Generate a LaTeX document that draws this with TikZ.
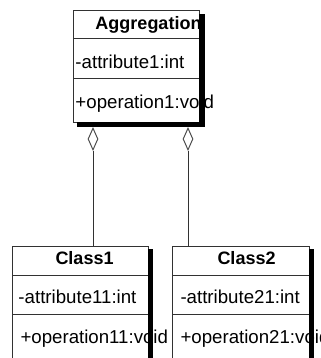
\documentclass[tikz,border=0pt]{standalone}
\usepackage{fontspec}
\setmainfont{Liberation Sans}
\usetikzlibrary{shapes.geometric}

\tikzset{every picture/.style={line width=0.75pt}}
\tikzset{
  umltext/.style={anchor=base west,inner sep=0pt,font=\fontsize{14}{16}\selectfont},
  umlname/.style={umltext,font=\fontsize{13.5}{16}\selectfont\bfseries},
  aggdiamond/.style={diamond,draw={rgb, 255:red, 80; green, 80; blue, 80},fill=white,inner sep=0pt,minimum width=7.5pt,minimum height=16.5pt}
}

\begin{document}
\begin{tikzpicture}[x=0.75pt,y=0.75pt,yscale=-1,xscale=1]
\useasboundingbox (0,0) rectangle (321,358);
\clip (0,0) rectangle (321,358);

% Aggregation
\draw  [draw={rgb, 255:red, 50; green, 50; blue, 50 }  ,fill=white ] (73,10) rectangle (199,122) ;
\draw  [draw={rgb, 255:red, 50; green, 50; blue, 50 }]  (73,38) -- (199,38) ;
\draw  [draw={rgb, 255:red, 50; green, 50; blue, 50 }]  (73,78) -- (199,78) ;
\draw (95,29) node (aggname) [umlname] {Aggregation};
\draw (75,68) node (aggattr) [umltext] {-attribute1:int};
\draw (75,108) node (aggop) [umltext] {+operation1:void};
\fill (199,14) rectangle (205,127) ;
\fill (77,122) rectangle (205,127) ;

% Class1
\draw  [draw={rgb, 255:red, 50; green, 50; blue, 50 }  ,fill=white ] (12,246) rectangle (148,370) ;
\draw  [draw={rgb, 255:red, 50; green, 50; blue, 50 }]  (12,275) -- (148,275) ;
\draw  [draw={rgb, 255:red, 50; green, 50; blue, 50 }]  (12,314) -- (148,314) ;
\draw (55,264) node (cls1name) [umlname] {Class1};
\draw (18,303) node (cls1attr) [umltext] {-attribute11:int};
\draw (20,343) node (cls1op) [umltext] {+operation11:void};
\fill (148,249) rectangle (153,370) ;

% Class2
\draw  [draw={rgb, 255:red, 50; green, 50; blue, 50 }  ,fill=white ] (172,246) rectangle (309,370) ;
\draw  [draw={rgb, 255:red, 50; green, 50; blue, 50 }]  (172,275) -- (309,275) ;
\draw  [draw={rgb, 255:red, 50; green, 50; blue, 50 }]  (172,314) -- (309,314) ;
\draw (217,264) node (cls2name) [umlname] {Class2};
\draw (180,303) node (cls2attr) [umltext] {-attribute21:int};
\draw (180,343) node (cls2op) [umltext] {+operation21:void};
\fill (309,249) rectangle (314,370) ;

% aggregation links
\node (dia1) [aggdiamond] at (93,139) {};
\node (dia2) [aggdiamond] at (188,139) {};
\coordinate (cls1top) at (93,246);
\coordinate (cls2top) at (188,246);
\draw  [draw={rgb, 255:red, 50; green, 50; blue, 50 }]  (dia1.south) -- (cls1top) ;
\draw  [draw={rgb, 255:red, 50; green, 50; blue, 50 }]  (dia2.south) -- (cls2top) ;

\end{tikzpicture}
\end{document}
